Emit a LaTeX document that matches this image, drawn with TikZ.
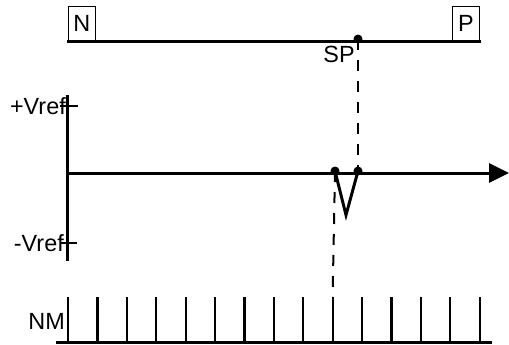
\documentclass[tikz,border=0pt]{standalone}
\usepackage{fontspec}
\setmainfont{Liberation Sans}
\usetikzlibrary{arrows.meta}
\begin{document}
\begin{tikzpicture}[x=1bp,y=-1bp,font=\fontsize{23.5}{27}\selectfont,
  thickline/.style={line width=3bp},
  tickline/.style={line width=2.2bp},
  dashline/.style={line width=2bp,dash pattern=on 11bp off 10bp},
  dot/.style={circle,fill,inner sep=0pt,minimum size=9bp},
  endbox/.style={draw,line width=0.8bp,minimum width=27bp,minimum height=34bp,anchor=south west,inner sep=0pt},
  lbl/.style={inner sep=0pt}]
\useasboundingbox (0,0) rectangle (509,344);
% top line with N and P
\coordinate (T0) at (67,41);
\coordinate (T1) at (481,41);
\draw[thickline] (T0)--(T1);
\node[endbox] (N) at (68,41) {N};
\node[endbox] (P) at (452,41) {P};
\node[dot] (SP) at (358,39) {};
\node[lbl] (SPlbl) at (339,54) {SP};
% axes
\coordinate (Y0) at (67,95);
\coordinate (Y1) at (67,261);
\coordinate (O) at (67,173);
\coordinate (E) at (509,173);
\draw[thickline] (Y0)--(Y1);
\draw[thickline,-{Triangle[length=20bp,width=19bp]}] (O)--(E);
\coordinate (pv0) at (60,106);
\coordinate (pv1) at (78,106);
\coordinate (mv0) at (61,243);
\coordinate (mv1) at (77,243);
\draw[tickline] (pv0)--(pv1);
\draw[tickline] (mv0)--(mv1);
\node[lbl,anchor=east] (pV) at (66,106) {+Vref};
\node[lbl,anchor=east] (mV) at (64,243) {-Vref};
% the V
\node[dot] (A) at (335,171) {};
\node[dot] (B) at (358,171) {};
\coordinate (V) at (346,215);
\draw[thickline] (A.center)--(V)--(B.center);
% NM row
\coordinate (M0) at (56,342);
\coordinate (M1) at (492,342);
\draw[thickline] (M0)--(M1);
\foreach \i in {0,...,14}{
  \coordinate (k\i) at (68+29.4*\i,297);
  \coordinate (kb\i) at (68+29.4*\i,342);
  \draw[tickline] (k\i)--(kb\i);
}
\node[lbl,anchor=east] (NM) at (65,321) {NM};
% dashed links
\draw[dashline] (SP.center)--(B.center);
\draw[dashline] (A.center)--(k9);
\end{tikzpicture}
\end{document}
